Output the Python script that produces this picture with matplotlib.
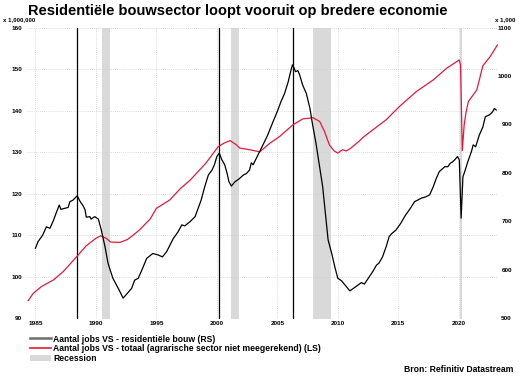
import numpy as np
import matplotlib
matplotlib.use("Agg")
import matplotlib.pyplot as plt
from matplotlib.lines import Line2D
from matplotlib.patches import Patch

plt.rcParams["font.family"] = ["Liberation Sans", "DejaVu Sans"]

# total nonfarm jobs (millions, left axis)
tot_years = [1984.4, 1984.8, 1985.5, 1986.5, 1987.3, 1988.45, 1989.2, 1990.0, 1990.4,
             1990.9, 1991.2, 1992.0, 1992.6, 1993.1, 1993.6, 1994.5, 1995.0, 1996.1,
             1997.0, 1997.8, 1999.1, 2000.1, 2000.6, 2001.1, 2001.6, 2001.9, 2002.7,
             2003.55, 2004.4, 2005.2, 2006.3, 2007.1, 2007.95, 2008.5, 2008.9, 2009.3,
             2009.7, 2010.0, 2010.4, 2010.7, 2011.0, 2011.75, 2012.1, 2013.0, 2014.0,
             2015.1, 2016.5, 2017.9, 2019.0, 2020.05, 2020.15, 2020.3, 2020.45, 2020.6,
             2020.8, 2021.2, 2021.5, 2022.0, 2022.6, 2023.2]
tot_jobs = [94.3, 96.0, 97.7, 99.3, 101.3, 105.0, 107.5, 109.3, 109.9,
            109.2, 108.4, 108.3, 109.0, 110.1, 111.3, 114.0, 116.5, 118.5,
            121.3, 123.3, 127.4, 131.3, 132.2, 132.8, 131.8, 131.0, 130.6,
            130.1, 132.2, 133.8, 136.6, 138.0, 138.3, 137.4, 135.0, 131.8,
            130.3, 129.8, 130.6, 130.3, 130.8, 132.6, 133.6, 135.6, 137.8,
            141.0, 144.6, 147.4, 150.2, 152.2, 151.0, 130.4, 136.5, 139.5,
            142.2, 143.8, 145.0, 150.8, 153.0, 155.8]

# residential construction jobs (thousands, right axis)
res_years = [1985.0, 1985.2, 1985.6, 1985.9, 1986.2, 1986.5, 1986.75, 1986.97, 1987.1,
             1987.4, 1987.7, 1987.85, 1988.1, 1988.45, 1988.7, 1988.95, 1989.1, 1989.2,
             1989.5, 1989.6, 1989.9, 1990.2, 1990.45, 1990.75, 1991.0, 1991.4, 1991.85,
             1992.25, 1992.6, 1992.95, 1993.2, 1993.5, 1993.8, 1994.2, 1994.7, 1995.15,
             1995.5, 1995.85, 1996.4, 1996.8, 1997.1, 1997.35, 1997.8, 1998.2, 1998.45,
             1998.7, 1999.0, 1999.3, 1999.6, 1999.8, 2000.0, 2000.2, 2000.4, 2000.65,
             2000.85, 2001.0, 2001.2, 2001.5, 2001.8, 2002.2, 2002.45, 2002.7, 2002.85,
             2003.0, 2003.2, 2003.55, 2003.95, 2004.2, 2004.65, 2005.05, 2005.3, 2005.6,
             2005.9, 2006.1, 2006.25, 2006.4, 2006.5, 2006.7, 2006.85, 2007.1, 2007.4,
             2007.7, 2007.9, 2008.2, 2008.45, 2008.75, 2008.95, 2009.2, 2009.5, 2009.75,
             2010.0, 2010.3, 2010.7, 2011.0, 2011.4, 2011.95, 2012.2, 2012.6, 2012.9,
             2013.2, 2013.4, 2013.7, 2014.0, 2014.25, 2014.5, 2014.8, 2015.2, 2015.6,
             2016.0, 2016.35, 2016.6, 2016.9, 2017.3, 2017.6, 2017.9, 2018.15, 2018.4,
             2018.85, 2019.1, 2019.3, 2019.5, 2019.7, 2019.9, 2020.05, 2020.2, 2020.35,
             2020.5, 2020.75, 2021.05, 2021.2, 2021.4, 2021.7, 2022.0, 2022.2, 2022.55,
             2022.8, 2022.95, 2023.1]
res_jobs = [645, 658, 672, 689, 686, 703, 720, 734, 725,
            727, 729, 741, 744, 753, 741, 732, 724, 709,
            710, 705, 710, 705, 682, 648, 614, 583, 562,
            542, 552, 562, 579, 583, 600, 624, 634, 631,
            627, 638, 665, 679, 693, 691, 700, 710, 727,
            744, 772, 796, 806, 817, 834, 841, 828, 817,
            799, 782, 773, 782, 787, 796, 799, 806, 821,
            817, 827, 844, 865, 878, 906, 930, 947, 964,
            988, 1009, 1023, 1016, 1009, 1011, 1002, 981, 964,
            933, 902, 861, 820, 772, 724, 662, 634, 607,
            583, 578, 566, 557, 564, 574, 571, 586, 597,
            610, 614, 627, 648, 669, 676, 682, 696, 713,
            727, 741, 744, 748, 751, 755, 772, 789, 803,
            813, 813, 820, 823, 828, 834, 827, 707, 792,
            803, 823, 844, 858, 854, 878, 895, 916, 920,
            926, 933, 930]

recessions = [(1990.5, 1991.17), (2001.17, 2001.83), (2007.92, 2009.42), (2020.08, 2020.25)]
peaks = [1988.45, 2000.2, 2006.3]

red = "#e5193c"
shade = "#d9d9d9"

fig = plt.figure(figsize=(5.2, 3.77), dpi=100)
ax = fig.add_axes([27 / 520, 1 - 318.5 / 377, (498 - 27) / 520, (318.5 - 27.5) / 377])
ax2 = ax.twinx()

for a, b in recessions:
    ax.axvspan(a, b, color=shade, lw=0, zorder=0)
for p in peaks:
    ax.axvline(p, color="black", lw=0.9, zorder=1)

ax.plot(tot_years, tot_jobs, color=red, lw=0.9)
ax2.plot(res_years, res_jobs, color="black", lw=0.9)

ax.set_xlim(1984.3, 2023.25)
ax.set_ylim(90, 160)
ax2.set_ylim(500, 1100)
ax.set_xticks(range(1985, 2021, 5))
ax.set_yticks(range(90, 161, 10))
ax2.set_yticks(range(500, 1101, 100))

ax.grid(True, color="#d0d0d0", lw=0.6, ls=(0, (1, 1.5)))
ax.set_axisbelow(True)
for a in (ax, ax2):
    for s in a.spines.values():
        s.set_visible(False)
ax.tick_params(length=0, labelsize=4.6)
ax.tick_params(axis="y", pad=3.5)
ax.tick_params(axis="x", pad=1.5)
ax2.tick_params(length=0, labelsize=4.6, pad=10)
for lab in ax.get_xticklabels() + ax.get_yticklabels():
    lab.set_fontweight("bold")
for lab in ax2.get_yticklabels():
    lab.set_fontweight("bold")
    lab.set_horizontalalignment("right")

fig.text(28 / 520, 1 - 11 / 377, "Residentiële bouwsector loopt vooruit op bredere economie",
         fontsize=10.5, fontweight="bold", va="center", ha="left")
fig.text(3 / 520, 1 - 20 / 377, "x 1,000,000", fontsize=4.4, fontweight="bold", va="center")
fig.text(515 / 520, 1 - 20 / 377, "x 1,000", fontsize=4.4, fontweight="bold", va="center", ha="right")
fig.text(513 / 520, 1 - 370 / 377, "Bron: Refinitiv Datastream", fontsize=6.2,
         fontweight="bold", va="center", ha="right")

handles = [Line2D([], [], color="#6e6e6e", lw=1.8),
           Line2D([], [], color=red, lw=1.2),
           Patch(color=shade, lw=0)]
labels = ["Aantal jobs VS - residentiële bouw (RS)",
          "Aantal jobs VS - totaal (agrarische sector niet meegerekend) (LS)",
          "Recession"]
leg = fig.legend(handles, labels, loc="upper left", bbox_to_anchor=(30 / 520, 1 - 334.5 / 377),
                 frameon=False, borderpad=0, borderaxespad=0, handlelength=2.4,
                 handleheight=0.8, handletextpad=0.3, labelspacing=0.08,
                 prop=dict(size=6.2, weight="bold"))

fig.savefig("out.png", dpi=100)
